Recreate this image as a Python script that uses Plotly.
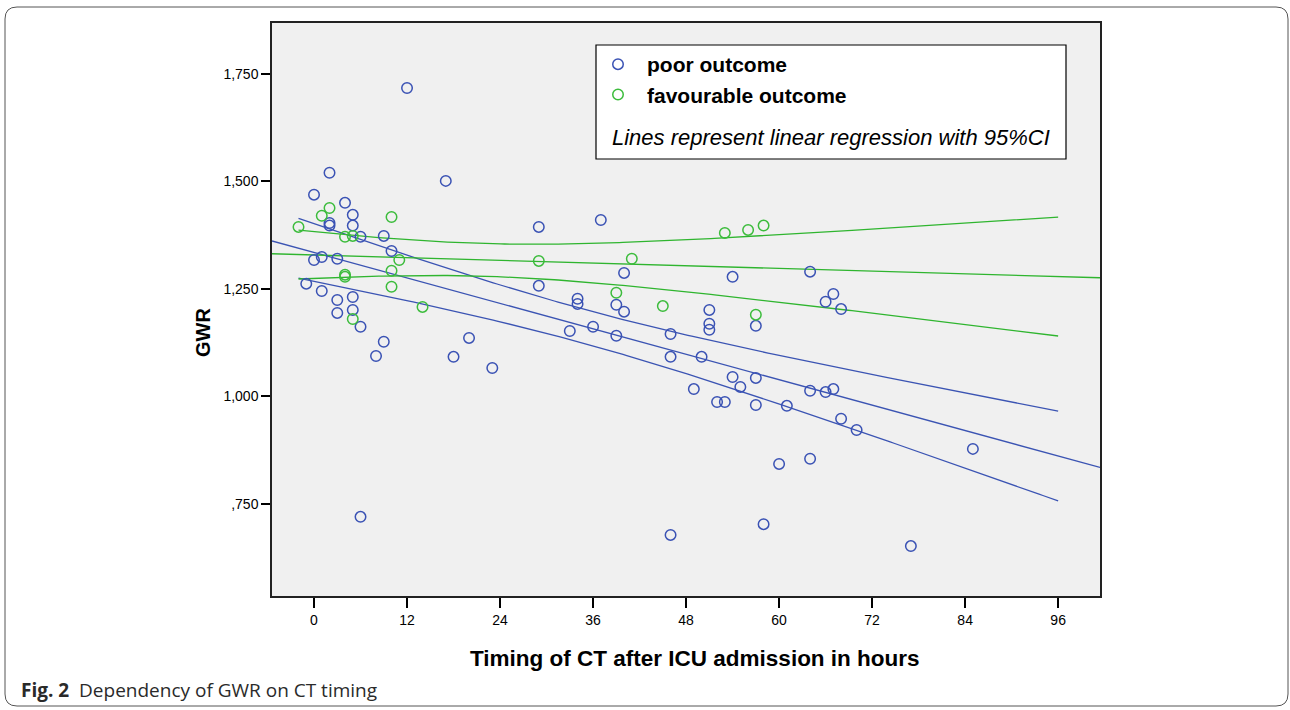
import numpy as np
import plotly.graph_objects as go

# ---- data ----
poor_hours = [0, 2, 4, 5, 5, 2, 2, 6, 9, 10, 0, 1, 3, -1, 1, 3, 5, 3, 5, 6, 9, 8, 6,
              12, 17, 18, 20, 23, 29, 37, 29, 34, 34, 33, 36, 39, 39, 40, 40,
              46, 46, 46, 50, 51, 51, 51, 49, 52, 53, 54, 55, 54, 57, 57, 57, 58,
              60, 61, 64, 64, 64, 66, 66, 67, 67, 68, 68, 70, 77, 85]
poor_gwr = [1.469, 1.520, 1.450, 1.422, 1.397, 1.403, 1.397, 1.371, 1.373, 1.338,
            1.317, 1.324, 1.320, 1.262, 1.245, 1.224, 1.231, 1.194, 1.201, 1.162,
            1.127, 1.094, 0.720,
            1.717, 1.501, 1.092, 1.136, 1.066, 1.394, 1.410, 1.257, 1.227, 1.215,
            1.152, 1.162, 1.213, 1.141, 1.287, 1.197,
            1.145, 1.092, 0.678, 1.092, 1.201, 1.169, 1.155, 1.017, 0.987, 0.987,
            1.045, 1.022, 1.278, 1.164, 1.043, 0.980, 0.703,
            0.843, 0.978, 1.290, 1.013, 0.855, 1.220, 1.010, 1.238, 1.017, 1.203,
            0.948, 0.922, 0.652, 0.878]

fav_hours = [-2, 2, 1, 10, 4, 5, 11, 4, 4, 10, 10, 14, 5, 29, 41, 39, 45, 53, 56, 58, 57]
fav_gwr = [1.394, 1.438, 1.420, 1.417, 1.371, 1.373, 1.317, 1.283, 1.278, 1.292,
           1.255, 1.208, 1.180, 1.315, 1.320, 1.241, 1.210, 1.380, 1.387, 1.397, 1.190]

x_ticks = [0, 12, 24, 36, 48, 60, 72, 84, 96]
y_ticks = [0.75, 1.0, 1.25, 1.5, 1.75]
y_tick_text = [",750", "1,000", "1,250", "1,500", "1,750"]
x_range = [-5.42, 101.4]
y_range = [0.536, 1.868]
ci_span = [-2, 96]

BLUE = "#3a52b4"
GREEN = "#3cbc3c"
BLUE_LINE = "#3b54b3"
GREEN_LINE = "#2fb52f"
FONT = "Liberation Sans, Arial"


def t_crit(df, z=1.959964):
    return (z + (z**3 + z) / (4 * df) + (5 * z**5 + 16 * z**3 + 3 * z) / (96 * df**2)
            + (3 * z**7 + 19 * z**5 + 17 * z**3 - 15 * z) / (384 * df**3))


def regression(xs, ys):
    x = np.asarray(xs, float)
    y = np.asarray(ys, float)
    n = len(x)
    b, a = np.polyfit(x, y, 1)
    resid = y - (a + b * x)
    s = np.sqrt(np.sum(resid**2) / (n - 2))
    sxx = np.sum((x - x.mean())**2)
    t = t_crit(n - 2)
    xf = np.array(x_range)
    yf = a + b * xf
    xc = np.linspace(ci_span[0], ci_span[1], 200)
    yc = a + b * xc
    half = t * s * np.sqrt(1.0 / n + (xc - x.mean())**2 / sxx)
    return xf, yf, xc, yc - half, yc + half


fig = go.Figure()

for hx, gy, lcol in [(poor_hours, poor_gwr, BLUE_LINE), (fav_hours, fav_gwr, GREEN_LINE)]:
    xf, yf, xc, lo, hi = regression(hx, gy)
    for xx, yy in [(xf, yf), (xc, lo), (xc, hi)]:
        fig.add_trace(go.Scatter(x=xx, y=yy, mode="lines", line=dict(color=lcol, width=1.3),
                                 showlegend=False, hoverinfo="skip"))

fig.add_trace(go.Scatter(x=poor_hours, y=poor_gwr, mode="markers", name="<b>poor outcome</b>",
                         marker=dict(symbol="circle-open", size=10.5, color=BLUE,
                                     line=dict(width=1.5, color=BLUE))))
fig.add_trace(go.Scatter(x=fav_hours, y=fav_gwr, mode="markers", name="<b>favourable outcome</b>",
                         marker=dict(symbol="circle-open", size=10.5, color=GREEN,
                                     line=dict(width=1.5, color=GREEN))))

# plot area in pixels
L, R, T, B = 272, 1100, 23, 596
W, H = R - L, B - T


def px(xp):
    return (xp - L) / W


def py(yp):
    return (B - yp) / H


shapes = []
# legend box
shapes.append(dict(type="rect", xref="paper", yref="paper",
                   x0=px(596), x1=px(1066), y0=py(159), y1=py(45),
                   fillcolor="white", line=dict(color="black", width=1.2), layer="above"))
# outer rounded frame
x0, x1, y0, y1, r = 5, 1288, 7, 706, 12
path = (f"M {px(x0 + r)} {py(y0)} L {px(x1 - r)} {py(y0)} "
        f"Q {px(x1)} {py(y0)} {px(x1)} {py(y0 + r)} L {px(x1)} {py(y1 - r)} "
        f"Q {px(x1)} {py(y1)} {px(x1 - r)} {py(y1)} L {px(x0 + r)} {py(y1)} "
        f"Q {px(x0)} {py(y1)} {px(x0)} {py(y1 - r)} L {px(x0)} {py(y0 + r)} "
        f"Q {px(x0)} {py(y0)} {px(x0 + r)} {py(y0)} Z")
shapes.append(dict(type="path", xref="paper", yref="paper", path=path,
                   line=dict(color="#555555", width=1)))

annotations = [
    dict(text="<i>Lines represent linear regression with 95%CI</i>", xref="paper", yref="paper",
         x=px(610), y=py(137), xanchor="left", yanchor="middle", showarrow=False,
         font=dict(family=FONT, size=22, color="black")),
    dict(text="<b>Fig. 2</b>  Dependency of GWR on CT timing", xref="paper", yref="paper",
         x=px(19), y=py(690), xanchor="left", yanchor="middle", showarrow=False,
         font=dict(family="Open Sans", size=19, color="#2a2a2a")),
    dict(text="<b>GWR</b>", xref="paper", yref="paper", x=px(203), y=py(333),
         xanchor="center", yanchor="middle", textangle=-90, showarrow=False,
         font=dict(family=FONT, size=20, color="black")),
    dict(text="<b>Timing of CT after ICU admission in hours</b>", xref="paper", yref="paper",
         x=px(695), y=py(658), xanchor="center", yanchor="middle", showarrow=False,
         font=dict(family=FONT, size=22.5, color="black")),
]

fig.update_layout(
    width=1290, height=710,
    margin=dict(l=L, r=1290 - R, t=T, b=710 - B),
    paper_bgcolor="white", plot_bgcolor="#f0f0f0",
    font=dict(family=FONT, color="black"),
    shapes=shapes, annotations=annotations,
    legend=dict(x=px(589), y=py(44), xanchor="left", yanchor="top",
                bgcolor="rgba(0,0,0,0)", borderwidth=0, itemwidth=48,
                font=dict(family=FONT, size=21, color="black"),
                tracegroupgap=0),
    showlegend=True,
    xaxis=dict(range=x_range, tickvals=x_ticks, ticks="outside", ticklen=10, tickwidth=2,
               tickcolor="black", showline=True, mirror=True, linecolor="#222", linewidth=1.5,
               showgrid=False, zeroline=False,
               tickfont=dict(family=FONT, size=14, color="black")),
    yaxis=dict(range=y_range, tickvals=y_ticks, ticktext=y_tick_text, ticks="outside",
               ticklen=9, tickwidth=2, tickcolor="black", showline=True, mirror=True,
               linecolor="#222", linewidth=1.5, showgrid=False, zeroline=False,
               tickfont=dict(family=FONT, size=14, color="black")),
)

fig.write_html("out.html", config={"displayModeBar": False},
               post_script="document.body.style.margin='0';")
